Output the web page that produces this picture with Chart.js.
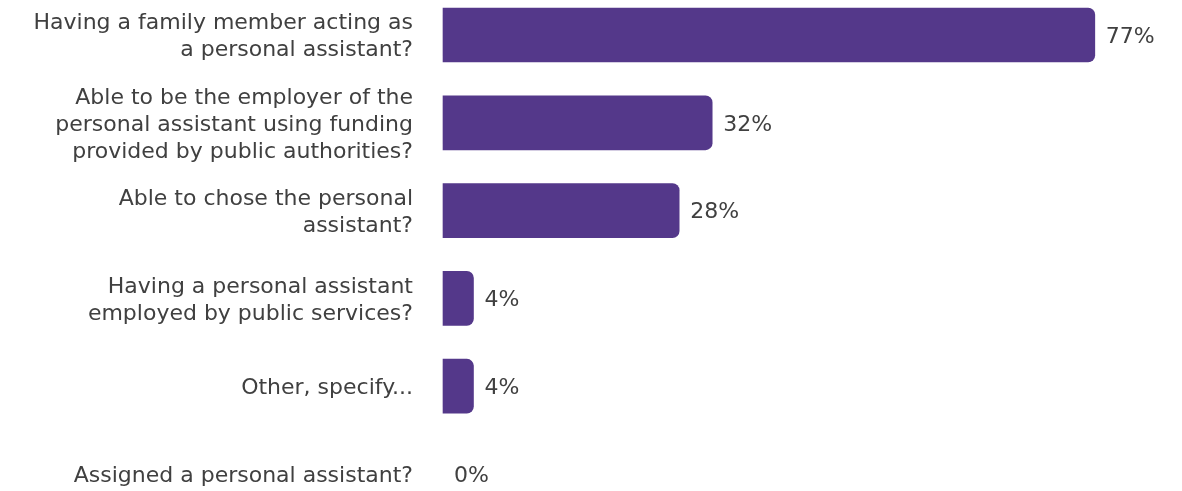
<!DOCTYPE html>
<html>
<head>
<meta charset="utf-8">
<script src="https://cdn.jsdelivr.net/npm/chart.js@4/dist/chart.umd.min.js"></script>
<style>
  html, body { margin: 0; padding: 0; background: #fff; }
  #wrap { width: 1182px; height: 491px; position: relative; }
</style>
</head>
<body>
<div id="wrap"><canvas id="grafico"></canvas></div>
<script>
// ======= Datos =======
const categorias = [
  ["Having a family member acting as", "a personal assistant?"],
  ["Able to be the employer of the", "personal assistant using funding", "provided by public authorities?"],
  ["Able to chose the personal", "assistant?"],
  ["Having a personal assistant", "employed by public services?"],
  ["Other, specify..."],
  ["Assigned a personal assistant?"]
];
const valores = [77, 31.8, 27.9, 3.6, 3.6, 0];
const etiquetasValor = ["77%", "32%", "28%", "4%", "4%", "0%"];

const COLOR_BARRA = "#54388a";
const COLOR_TEXTO = "#404040";
const FUENTE = "'DejaVu Sans', Verdana, sans-serif";
const TAM = 22;

// etiquetas de valor a la derecha de cada barra
const pluginValores = {
  id: "valores",
  afterDatasetsDraw(chart) {
    const c = chart.ctx;
    const meta = chart.getDatasetMeta(0);
    c.save();
    c.font = TAM + "px " + FUENTE;
    c.fillStyle = COLOR_TEXTO;
    c.textAlign = "left";
    c.textBaseline = "middle";
    meta.data.forEach((bar, i) => {
      c.fillText(etiquetasValor[i], bar.x + 11, bar.y + 2);
    });
    c.restore();
  }
};

const ctx = document.getElementById("grafico").getContext("2d");
new Chart(ctx, {
  type: "bar",
  data: {
    labels: categorias,
    datasets: [{
      data: valores,
      backgroundColor: (c) => (c.raw > 0 ? COLOR_BARRA : "rgba(0,0,0,0)"),
      borderRadius: 7,
      barThickness: 54,
      clip: false
    }]
  },
  options: {
    indexAxis: "y",
    responsive: true,
    maintainAspectRatio: false,
    animation: false,
    layout: { padding: { top: 35, bottom: 17, left: 0, right: 11 } },
    plugins: {
      legend: { display: false },
      tooltip: { enabled: false }
    },
    scales: {
      x: {
        display: false,
        min: 0,
        max: 86
      },
      y: {
        offset: false,
        grid: { display: false },
        border: { display: false },
        afterFit(scale) {
          scale.width = 443;
          scale.paddingTop = 0;
          scale.paddingBottom = 0;
        },
        ticks: {
          autoSkip: false,
          padding: 22,
          labelOffset: 2,
          color: COLOR_TEXTO,
          font: { family: FUENTE, size: TAM, lineHeight: 27 / TAM }
        }
      }
    }
  },
  plugins: [pluginValores]
});
</script>
</body>
</html>
